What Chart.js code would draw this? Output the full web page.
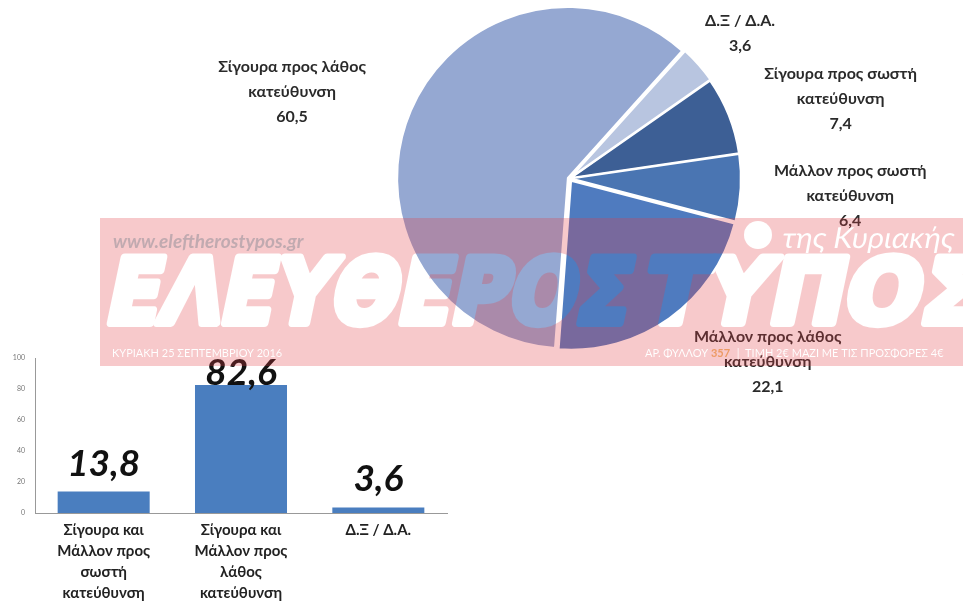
<!DOCTYPE html>
<html lang="el">
<head>
<meta charset="UTF-8">
<title>Κατεύθυνση της χώρας</title>
<script src="https://cdn.jsdelivr.net/npm/chart.js"></script>
<style>
    body { margin: 0; background: #fff; }
    .janela { position: relative; width: 963px; height: 612px; overflow: hidden; background: #fff; }
    #barras { position: absolute; left: 0; top: 340px; }
    #pita { position: absolute; left: 0; top: 0; }
    #banda { position: absolute; left: 0; top: 0; pointer-events: none; }
</style>
</head>
<body>
<div class="janela">
    <canvas id="barras" width="460" height="272"></canvas>
    <canvas id="pita" width="963" height="410"></canvas>
    <canvas id="banda" width="963" height="612"></canvas>
</div>

<script>
    // pie data (in drawing order, clockwise)
    const pieLabels = [
        ['Σίγουρα προς σωστή', 'κατεύθυνση'],
        ['Μάλλον προς σωστή', 'κατεύθυνση'],
        ['Μάλλον προς λάθος', 'κατεύθυνση'],
        ['Σίγουρα προς λάθος', 'κατεύθυνση'],
        ['Δ.Ξ / Δ.Α.']
    ];
    const pieValues = [7.4, 6.4, 22.1, 60.5, 3.6];
    const pieColors = ['#3d5f95', '#4a75b2', '#4f7bbf', '#95a8d2', '#b8c5e0'];

    // bar data
    const barLabels = [
        ['Σίγουρα και', 'Μάλλον προς', 'σωστή', 'κατεύθυνση'],
        ['Σίγουρα και', 'Μάλλον προς', 'λάθος', 'κατεύθυνση'],
        ['Δ.Ξ / Δ.Α.']
    ];
    const barValues = [13.8, 82.6, 3.6];
    const yTicks = [0, 20, 40, 60, 80, 100];

    const fmt = v => String(v).replace('.', ',');
    const fonte = "Lato, 'Open Sans', sans-serif";

    // where each pie label sits, relative to the outer middle of its slice
    const pieNudge = [[114, -17], [112, 8], [100, 46], [-122, -20], [44, -33]];

    const pieLabelPlugin = {
        id: 'pieLabels',
        afterDraw(chart) {
            const ctx = chart.ctx;
            const meta = chart.getDatasetMeta(0);
            ctx.save();
            ctx.font = 'bold 16px ' + fonte;
            ctx.fillStyle = '#2a2a2a';
            ctx.textAlign = 'center';
            ctx.textBaseline = 'middle';
            meta.data.forEach((arc, i) => {
                const p = arc.getProps(['x', 'y', 'startAngle', 'endAngle', 'outerRadius'], true);
                const mid = (p.startAngle + p.endAngle) / 2;
                const ax = p.x + Math.cos(mid) * p.outerRadius + pieNudge[i][0];
                const ay = p.y + Math.sin(mid) * p.outerRadius + pieNudge[i][1];
                const linhas = pieLabels[i].concat([fmt(pieValues[i])]);
                const y0 = ay - (linhas.length - 1) * 12.5;
                linhas.forEach((t, k) => ctx.fillText(t, ax, y0 + k * 25));
            });
            ctx.restore();
        }
    };

    new Chart(document.getElementById('pita'), {
        type: 'pie',
        data: {
            labels: pieLabels,
            datasets: [{
                data: pieValues,
                backgroundColor: pieColors,
                borderColor: '#ffffff',
                borderWidth: 2,
                offset: [6, 6, 11, 7, 7]
            }]
        },
        options: {
            responsive: false,
            animation: false,
            devicePixelRatio: 1,
            rotation: 55,
            layout: { padding: { left: 394, top: 3, right: 218, bottom: 56 } },
            plugins: { legend: { display: false }, tooltip: { enabled: false } }
        },
        plugins: [pieLabelPlugin]
    });

    const barValuePlugin = {
        id: 'barValues',
        afterDatasetsDraw(chart) {
            const ctx = chart.ctx;
            const meta = chart.getDatasetMeta(0);
            ctx.save();
            ctx.font = 'italic bold 37px ' + fonte;
            ctx.fillStyle = '#111';
            ctx.textAlign = 'center';
            ctx.textBaseline = 'alphabetic';
            meta.data.forEach((bar, i) => {
                const y = Math.max(bar.y - 16, chart.chartArea.top + 27);
                ctx.fillText(fmt(barValues[i]), bar.x, y);
            });
            ctx.restore();
        }
    };

    new Chart(document.getElementById('barras'), {
        type: 'bar',
        data: {
            labels: barLabels,
            datasets: [{
                data: barValues,
                backgroundColor: '#4a7ebf',
                borderWidth: 0,
                categoryPercentage: 1,
                barPercentage: 0.67
            }]
        },
        options: {
            responsive: false,
            animation: false,
            devicePixelRatio: 1,
            layout: { padding: { top: 18, right: 13, left: 0, bottom: 0 } },
            plugins: { legend: { display: false }, tooltip: { enabled: false } },
            scales: {
                x: {
                    grid: { display: false, drawTicks: false },
                    border: { display: true, color: '#999' },
                    ticks: {
                        padding: 7,
                        color: '#222',
                        font: { family: fonte, size: 15, weight: 'bold', lineHeight: 1.4 },
                        maxRotation: 0,
                        autoSkip: false
                    },
                    afterFit(scale) { scale.height = 99; }
                },
                y: {
                    min: 0,
                    max: 100,
                    grid: { display: false, drawTicks: false },
                    border: { display: true, color: '#999' },
                    afterBuildTicks(scale) { scale.ticks = yTicks.map(v => ({ value: v })); },
                    ticks: {
                        padding: 10,
                        color: '#777',
                        font: { family: fonte, size: 7 }
                    },
                    afterFit(scale) { scale.width = 35; }
                }
            }
        },
        plugins: [barValuePlugin]
    });

    // newspaper watermark band over everything
    const banda = document.getElementById('banda').getContext('2d');
    banda.fillStyle = 'rgba(225, 60, 70, 0.28)';
    banda.fillRect(100, 218, 863, 148);

    // texts cut out of the band
    banda.globalCompositeOperation = 'destination-out';
    banda.fillStyle = '#000';
    banda.strokeStyle = '#000';
    banda.lineJoin = 'round';
    function encaixa(txt, fonteTxt, x0, x1, base, inclina, grosso) {
        banda.save();
        banda.font = fonteTxt;
        const w = banda.measureText(txt).width;
        const sx = (x1 - x0) / w;
        banda.setTransform(sx, 0, -inclina, 1, x0, base);
        banda.fillText(txt, 0, 0);
        if (grosso) {
            banda.lineWidth = grosso;
            banda.strokeText(txt, 0, 0);
        }
        banda.restore();
    }
    const pesada = 'bold 90px "DejaVu Sans", sans-serif';
    encaixa('ΕΛΕΥΘΕΡΟΣ', pesada, 103, 626, 323, 0.21, 8);
    encaixa('ΤΥΠΟΣ', pesada, 640, 978, 323, 0.21, 8);
    encaixa('της Κυριακής', 'italic 29px ' + fonte, 782, 954, 248, 0.05, 0);

    banda.beginPath();
    banda.arc(758, 235, 14, 0, Math.PI * 2);
    banda.fill();

    banda.font = '11px ' + fonte;
    banda.fillText('ΚΥΡΙΑΚΗ 25 ΣΕΠΤΕΜΒΡΙΟΥ 2016', 112, 357);
    let px = 645;
    banda.fillText('ΑΡ. ΦΥΛΛΟΥ ', px, 357);
    px += banda.measureText('ΑΡ. ΦΥΛΛΟΥ ').width;
    banda.font = 'bold 11px ' + fonte;
    const largura357 = banda.measureText('357 ').width;
    banda.font = '11px ' + fonte;
    banda.fillText('|  ΤΙΜΗ 2€ ΜΑΖΙ ΜΕ ΤΙΣ ΠΡΟΣΦΟΡΕΣ 4€', px + largura357 + 4, 357);

    banda.globalCompositeOperation = 'source-over';
    banda.font = 'bold 11px ' + fonte;
    banda.fillStyle = 'rgba(235, 150, 90, 0.9)';
    banda.fillText('357', px, 357);

    banda.font = 'italic bold 19px ' + fonte;
    banda.fillStyle = 'rgba(140, 140, 150, 0.5)';
    banda.fillText('www.eleftherostypos.gr', 113, 248);
</script>
</body>
</html>
